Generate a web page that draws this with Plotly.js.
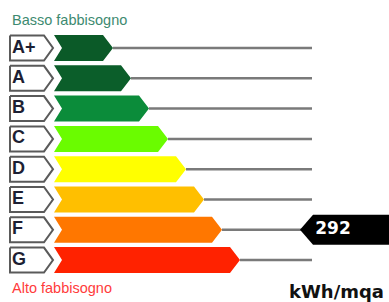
<!DOCTYPE html>
<html>
<head>
<meta charset="utf-8">
<script src="https://cdn.plot.ly/plotly-3.0.1.min.js"></script>
<style>html,body{margin:0;padding:0;background:#fff;}#chart{width:389px;height:302px;}</style>
</head>
<body>
<div id="chart"></div>
<script>
// ---- data ----
const classes = ["A+", "A", "B", "C", "D", "E", "F", "G"];
const barEnds = [113, 131, 149, 168, 186, 204, 222, 240];
const barColors = ["#0b5a28", "#0b5e2a", "#0b8c3a", "#6afc00", "#ffff00", "#ffbf00", "#ff7700", "#ff2200"];
const currentClass = "F";
const currentValue = 292;
const topLabel = "Basso fabbisogno";
const bottomLabel = "Alto fabbisogno";
const unitLabel = "kWh/mqa";

// ---- geometry (px along x, row index along y) ----
const rowPx = 30.3, firstRowPx = 48;
const H = 302, W = 389;
const yTop = -firstRowPx / rowPx;
const yBot = yTop + H / rowPx;
const hBar = 13 / rowPx, hBox = 12.5 / rowPx, hMark = 15 / rowPx;
const barStart = 54, notch = 8, tip = 10, lineEnd = 312;

const traces = [];
classes.forEach((c, i) => {
  // label tag
  traces.push({
    x: [10, 44, 53, 44, 10, 10], y: [i - hBox, i - hBox, i, i + hBox, i + hBox, i - hBox],
    mode: "lines", fill: "toself", fillcolor: "#ffffff",
    line: {color: "#5a5a5a", width: 2}, hoverinfo: "skip", showlegend: false
  });
  // guide line
  traces.push({
    x: [barEnds[i], lineEnd], y: [i, i], mode: "lines",
    line: {color: "#7a7a7a", width: 2.5}, hoverinfo: "skip", showlegend: false
  });
  // bar arrow
  const e = barEnds[i];
  traces.push({
    x: [barStart, e - tip, e, e - tip, barStart, barStart + notch, barStart],
    y: [i - hBar, i - hBar, i, i + hBar, i + hBar, i, i - hBar],
    mode: "lines", fill: "toself", fillcolor: barColors[i],
    line: {width: 0, color: barColors[i]}, hoverinfo: "skip", showlegend: false
  });
});
// class letters
traces.push({
  x: classes.map(() => 12), y: classes.map((c, i) => i), text: classes,
  mode: "text", textposition: "middle right",
  textfont: {family: "Liberation Sans, Arial, sans-serif", size: 18, color: "#1d1f33", weight: "bold"},
  hoverinfo: "skip", showlegend: false
});
// current value marker
const ci = classes.indexOf(currentClass);
traces.push({
  x: [300, 313, W, W, 313, 300], y: [ci, ci - hMark, ci - hMark, ci + hMark, ci + hMark, ci],
  mode: "lines", fill: "toself", fillcolor: "#000000",
  line: {width: 0, color: "#000"}, hoverinfo: "skip", showlegend: false
});
traces.push({
  x: [333], y: [ci], text: [String(currentValue)], mode: "text", textposition: "middle center",
  textfont: {family: "DejaVu Sans, sans-serif", size: 17, color: "#ffffff", weight: "bold"},
  hoverinfo: "skip", showlegend: false
});

const layout = {
  width: W, height: H, margin: {l: 0, r: 0, t: 0, b: 0},
  paper_bgcolor: "#ffffff", plot_bgcolor: "#ffffff",
  xaxis: {range: [0, W], visible: false, fixedrange: true},
  yaxis: {range: [yBot, yTop], visible: false, fixedrange: true},
  annotations: [
    {text: topLabel, xref: "x", yref: "paper", x: 10, y: 1 - 20 / H, xanchor: "left", yanchor: "middle",
     showarrow: false, font: {family: "Liberation Sans, Arial, sans-serif", size: 14.5, color: "#3d8a70"}},
    {text: bottomLabel, xref: "x", yref: "paper", x: 10, y: 1 - 288 / H, xanchor: "left", yanchor: "middle",
     showarrow: false, font: {family: "Liberation Sans, Arial, sans-serif", size: 14.5, color: "#ff3b3b"}},
    {text: unitLabel, xref: "x", yref: "paper", x: 386, y: 1 - 291 / H, xanchor: "right", yanchor: "middle",
     showarrow: false, font: {family: "DejaVu Sans, sans-serif", size: 18, color: "#111111", weight: "bold"}}
  ]
};
Plotly.newPlot("chart", traces, layout, {staticPlot: true, displayModeBar: false});
</script>
</body>
</html>
